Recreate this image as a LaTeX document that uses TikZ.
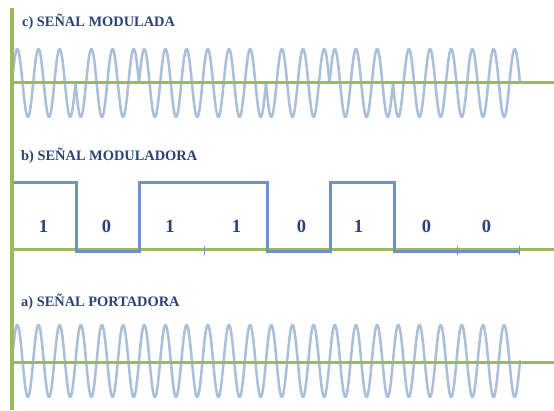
\documentclass[tikz,border=0pt]{standalone}
\usepackage{fontspec}
\setmainfont{Liberation Serif}
\definecolor{axisgreen}{HTML}{9BBB59}
\definecolor{wavblue}{HTML}{A9BFDA}
\definecolor{sqblue}{HTML}{6F93C3}
\definecolor{txtblue}{HTML}{2A4374}
\begin{document}
\begin{tikzpicture}[x=1pt,y=-1pt,
  title/.style={anchor=base west, text=txtblue, font=\bfseries\fontsize{14.4}{17}\selectfont, inner sep=0pt},
  bitlabel/.style={anchor=base, text=txtblue, font=\bfseries\fontsize{18.5}{22}\selectfont, inner sep=0pt},
  axisline/.style={draw=axisgreen, line width=3pt},
  wave/.style={draw=wavblue, line width=2.5pt, line join=round, line cap=round},
  square/.style={draw=sqblue, line width=3pt, line join=miter},
  tickmark/.style={draw=sqblue, line width=1pt}]
\fill[white] (0,0) rectangle (554,410);
\useasboundingbox (0,0) rectangle (554,410);

% c) modulated (PSK)
\foreach \b [count=\i from 0] in {1,0,1,1,0,1,0,0} {
  \pgfmathsetmacro\xa{12+63.5*\i}
  \pgfmathsetmacro\xb{\xa+63.5}
  \draw[wave] plot[domain=\xa:\xb, samples=128] (\x, {83-34*(2*\b-1)*sin(17.00787*(\x-12))});
}
% a) carrier
\draw[wave] plot[domain=12:520, samples=1017] (\x, {361-36*sin(17.00787*(\x-12))});

% axes
\coordinate (c0) at (12,82);   \coordinate (c1) at (554,82);
\coordinate (b0) at (12,249.5); \coordinate (b1) at (554,249.5);
\coordinate (a0) at (12,362);  \coordinate (a1) at (554,362);
\coordinate (v0) at (12,8);    \coordinate (v1) at (12,410);
\draw[axisline] (c0) -- (c1);
\draw[axisline] (a0) -- (a1);
\draw[axisline] (b0) -- (b1);

% b) modulating square wave
\coordinate (s0) at (12,182);
\coordinate (s1) at (76,182);   \coordinate (s2) at (76,251);
\coordinate (s3) at (139,251);  \coordinate (s4) at (139,182);
\coordinate (s5) at (267,182);  \coordinate (s6) at (267,251);
\coordinate (s7) at (330,251);  \coordinate (s8) at (330,182);
\coordinate (s9) at (394,182);  \coordinate (s10) at (394,251);
\coordinate (s11) at (519,251);
\draw[square] (s0) -- (s1) -- (s2) -- (s3) -- (s4) -- (s5) -- (s6) -- (s7) -- (s8) -- (s9) -- (s10) -- (s11);
\foreach \t in {204,457,519} {
  \draw[tickmark] (\t,246) -- (\t,255);
}

% vertical green line
\draw[axisline, line width=3.5pt] (v0) -- (v1);

% titles
\node[title] (tc) at (22,26) {c) SEÑAL MODULADA};
\node[title] (tb) at (21,160) {b) SEÑAL MODULADORA};
\node[title] (ta) at (21,306.5) {a) SEÑAL PORTADORA};

% bit labels
\node[bitlabel] (l1) at (43.5,232) {1};
\node[bitlabel] (l2) at (106.5,232) {0};
\node[bitlabel] (l3) at (170,232) {1};
\node[bitlabel] (l4) at (236.5,232) {1};
\node[bitlabel] (l5) at (301.5,232) {0};
\node[bitlabel] (l6) at (358.5,232) {1};
\node[bitlabel] (l7) at (426.5,232) {0};
\node[bitlabel] (l8) at (486.5,232) {0};
\end{tikzpicture}
\end{document}
